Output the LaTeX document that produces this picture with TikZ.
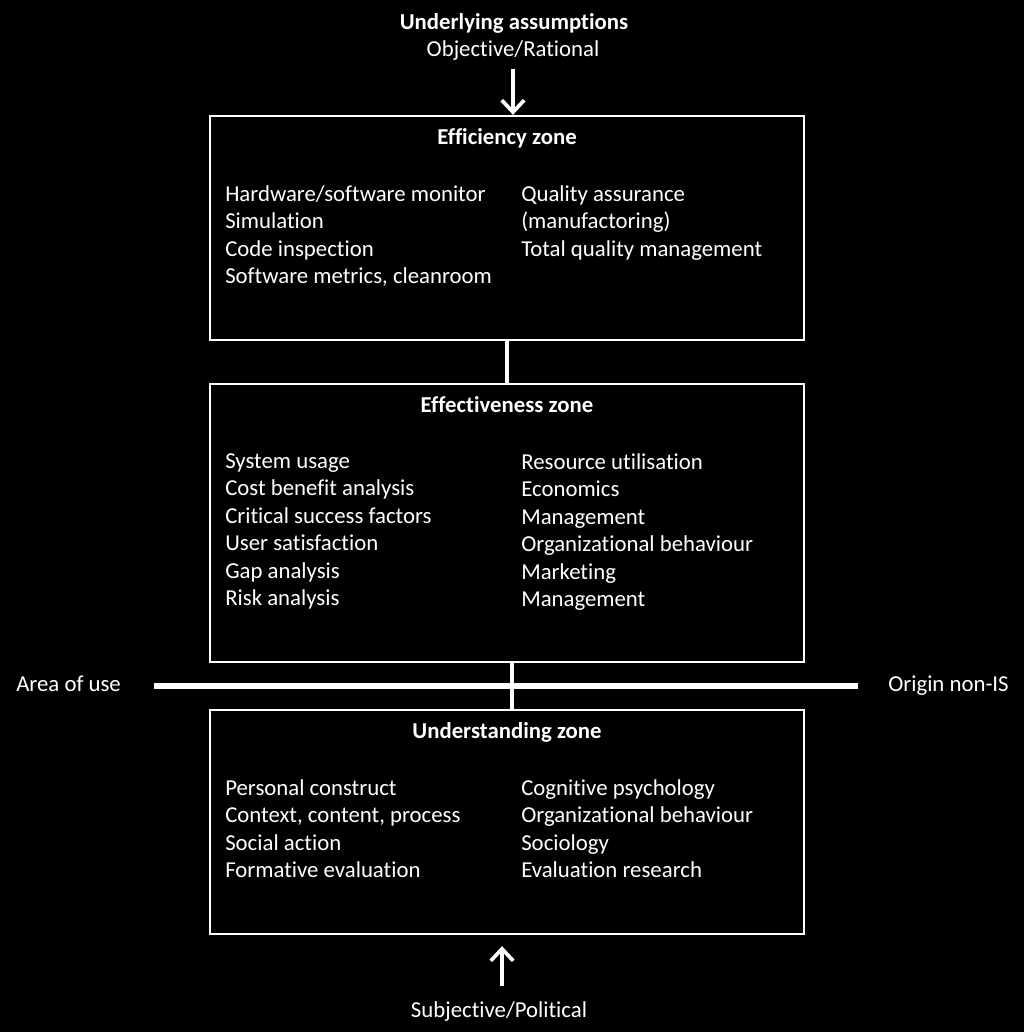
\documentclass[tikz,border=0pt]{standalone}
\usepackage{fontspec}
\setmainfont{Carlito}[Ligatures=NoCommon]
\usetikzlibrary{arrows.meta}

\tikzset{
  zone/.style={draw=white, line width=1.6pt, minimum width=594*0.025cm, inner sep=0pt},
  zonetitle/.style={text=white, font=\fontsize{16.2}{19.6}\selectfont\bfseries, anchor=base},
  item/.style={text=white, font=\fontsize{16.2}{19.6}\selectfont, align=left, anchor=north west, inner sep=0pt},
  label/.style={text=white, font=\fontsize{16.2}{19.6}\selectfont},
  link/.style={draw=white},
  flow/.style={draw=white, line width=2.6pt, -{Straight Barb[length=0.3cm, width=0.56cm]}}
}

\begin{document}
\begin{tikzpicture}[x=0.025cm, y=-0.025cm]
  % Background and page size
  \fill[black] (0,0) rectangle (1024,1032);
  \useasboundingbox (0,0) rectangle (1024,1032);

  % Assumptions
  \node[label, font=\fontsize{16.2}{19.6}\selectfont\bfseries, anchor=base] (ua) at (514,29) {Underlying assumptions};
  \node[label, anchor=base] (obj) at (513,56) {Objective/Rational};
  \node[label, anchor=base] (subj) at (499,1017) {Subjective/Political};

  % Zones
  \node[zone, minimum height=224*0.025cm] (eff) at (507,228) {};
  \node[zone, minimum height=278*0.025cm] (effv) at (507,523) {};
  \node[zone, minimum height=224*0.025cm] (und) at (507,822) {};

  % Titles
  \node[zonetitle] (efft) at (507,144) {Efficiency zone};
  \node[zonetitle] (effvt) at (507,412) {Effectiveness zone};
  \node[zonetitle] (undt) at (507,738) {Understanding zone};

  % Efficiency zone
  \node[item] (eff1) at (225,185) {Hardware/software monitor\\Simulation\\Code inspection\\Software metrics, cleanroom};
  \node[item] (eff2) at (521,185) {Quality assurance\\(manufactoring)\\Total quality management};

  % Effectiveness zone
  \node[item] (effv1) at (225,453) {System usage\\Cost benefit analysis\\Critical success factors\\User satisfaction\\Gap analysis\\Risk analysis};
  \node[item] (effv2) at (521,453) {Resource utilisation\\Economics\\Management\\Organizational behaviour\\Marketing\\Management};

  % Understanding zone
  \node[item] (und1) at (225,779) {Personal construct\\Context, content, process\\Social action\\Formative evaluation};
  \node[item] (und2) at (521,779) {Cognitive psychology\\Organizational behaviour\\Sociology\\Evaluation research};

  % Axis labels
  \node[label, anchor=base west, inner sep=0pt] (aou) at (16,691) {Area of use};
  \node[label, anchor=base east, inner sep=0pt] (onis) at (1009,691) {Origin non-IS};

  % Links
  \draw[link, line width=3.2pt] (eff.south) -- (effv.north);
  \draw[link, line width=2.2pt] ([xshift=0.125cm]effv.south) -- ([xshift=0.125cm]und.north);
  \draw[link, line width=3.6pt] ([xshift=0.825cm, yshift=0.125cm]aou.base east) -- ([xshift=-0.75cm, yshift=0.125cm]onis.base west);

  % Arrows
  \draw[flow] ([yshift=-0.1cm]obj.south) -- (obj.south |- eff.north);
  \draw[flow] ([xshift=0.075cm, yshift=0.25cm]subj.north) -- ([xshift=0.075cm, yshift=-0.275cm]subj.north |- und.south);
\end{tikzpicture}
\end{document}
